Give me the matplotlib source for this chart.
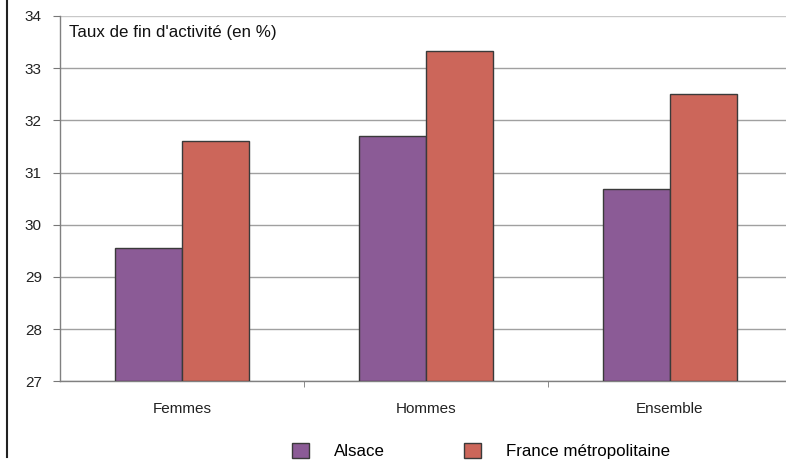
import matplotlib.pyplot as plt
import numpy as np
from matplotlib.lines import Line2D

plt.rcParams['font.family'] = ['Liberation Sans', 'DejaVu Sans']

# Données
categories = ["Femmes", "Hommes", "Ensemble"]
alsace = [29.55, 31.71, 30.68]
france = [31.61, 33.32, 32.51]
series_names = ["Alsace", "France métropolitaine"]

col_alsace = "#8b5b96"
col_france = "#cc665a"
edge = "#3a3a3a"

fig = plt.figure(figsize=(7.86, 4.63), dpi=100)
ax = fig.add_axes([60 / 786, 1 - 381.3 / 463, 732 / 786, (381.3 - 16) / 463])

x = np.arange(len(categories))
w = 0.275
b1 = ax.bar(x - w / 2, np.array(alsace) - 27, w, bottom=27, color=col_alsace,
            edgecolor=edge, linewidth=1, zorder=3)
b2 = ax.bar(x + w / 2, np.array(france) - 27, w, bottom=27, color=col_france,
            edgecolor=edge, linewidth=1, zorder=3)

ax.set_xlim(-0.5, 2.5)
ax.set_ylim(27, 34)
ax.set_yticks(range(27, 35))
ax.yaxis.grid(True, color="#a0a0a0", linewidth=1, zorder=0)
ax.get_ygridlines()[-1].set_color("#c8c8c8")
ax.set_axisbelow(True)

ax.set_xticks(x)
ax.set_xticklabels(categories, fontsize=11, color="#222222")
ax.set_xticks([0.5, 1.5], minor=True)
ax.tick_params(axis="x", which="major", length=0, pad=15)
ax.tick_params(axis="x", which="minor", length=4, color="#777777", direction="out")
ax.tick_params(axis="y", length=5, color="#777777", labelsize=11,
               labelcolor="#222222", pad=8)

for s in ["top", "right"]:
    ax.spines[s].set_visible(False)
for s in ["left", "bottom"]:
    ax.spines[s].set_color("#808080")
    ax.spines[s].set_linewidth(1)

fig.text(69 / 786, 1 - 33 / 463, "Taux de fin d'activité (en %)",
         fontsize=12.2, color="#111111", va="center", ha="left")

fig.legend([b1, b2], series_names, loc="center left",
           bbox_to_anchor=(292 / 786, 1 - 451 / 463), ncol=2, frameon=False,
           fontsize=12.2, handlelength=1.0, handleheight=0.95, handletextpad=1.45,
           columnspacing=4.7, borderpad=0, borderaxespad=0)

# Trait vertical à gauche
fig.add_artist(Line2D([7 / 786, 7 / 786], [1, 6 / 463], transform=fig.transFigure,
                      color="#222222", linewidth=1.5))

fig.savefig("out.png", dpi=100)
